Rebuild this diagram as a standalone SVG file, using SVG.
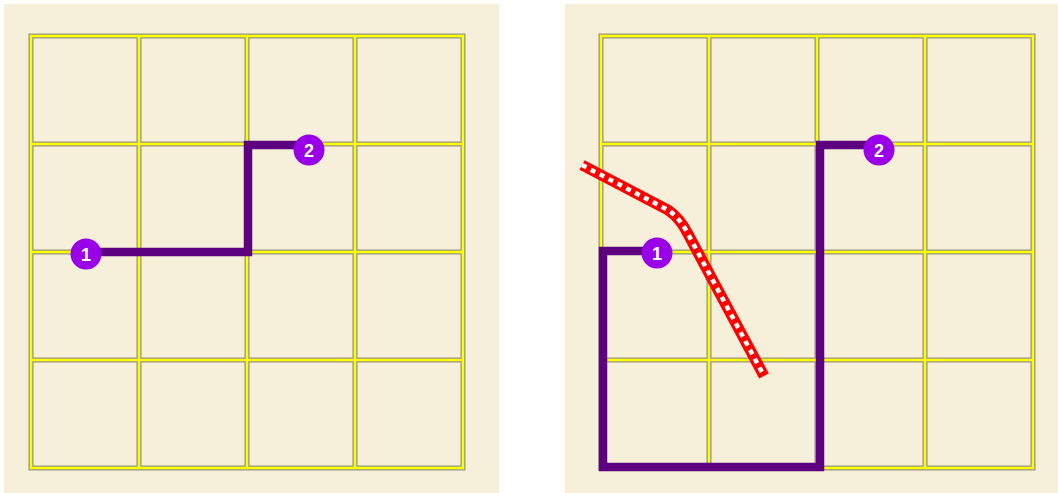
<svg xmlns="http://www.w3.org/2000/svg" width="1058" height="493" viewBox="0 0 1058 493">
<defs>
<style>
.bg{fill:#f6f0da}
.gg{fill:none;stroke:#929285;stroke-width:5}
.gy{fill:none;stroke:#ffff00;stroke-width:2.5}
.route{fill:none;stroke:#5c0080;stroke-width:8.5;stroke-linejoin:miter;stroke-linecap:square}
.node circle{fill:#9a00e8}
.node text{fill:#fff;font-family:"Liberation Sans",Arial,sans-serif;font-weight:bold;font-size:18px;text-anchor:middle}
.red{fill:none;stroke:#ff0000;stroke-width:11;stroke-linejoin:round}
.redw{fill:none;stroke:#ffffff;stroke-width:4.5;stroke-dasharray:5 5}
</style>
<g id="grid">
<path class="gg" d="M31,36H463V468H31Z M139,36V468 M247,36V468 M355,36V468 M31,144H463 M31,252H463 M31,360H463"/>
<path class="gy" d="M31,36H463V468H31Z M139,36V468 M247,36V468 M355,36V468 M31,144H463 M31,252H463 M31,360H463"/>
</g>
</defs>
<rect class="bg" x="4" y="4" width="495" height="489"/>
<rect class="bg" x="565" y="4" width="493" height="489"/>
<use href="#grid"/>
<use href="#grid" x="570"/>
<g id="connectors">
<path class="route" d="M86,252H248V145H309"/>
<path class="route" d="M657,251H603V467H820V145H879"/>
<g id="obstacle">
<path class="red" d="M582,165L668,210Q680,218 688,234L764,376"/>
<path class="redw" d="M582,165L668,210Q680,218 688,234L764,376"/>
</g>
</g>
<g id="p1n1" class="node"><circle cx="86" cy="254" r="15.5"/><text x="86" y="260.5">1</text></g>
<g id="p1n2" class="node"><circle cx="309" cy="150" r="15.5"/><text x="309" y="156.5">2</text></g>
<g id="p2n1" class="node"><circle cx="657" cy="253" r="15.5"/><text x="657" y="259.5">1</text></g>
<g id="p2n2" class="node"><circle cx="879" cy="150" r="15.5"/><text x="879" y="156.5">2</text></g>
</svg>
